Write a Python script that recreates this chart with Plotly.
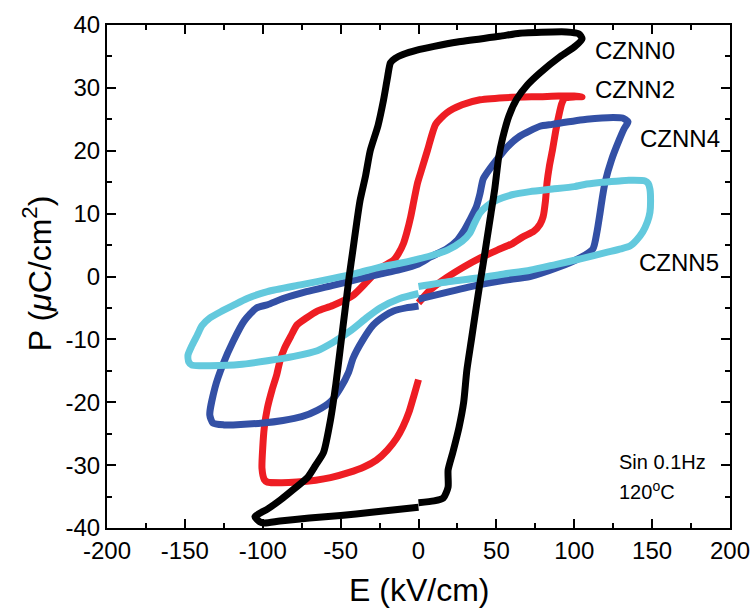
import plotly.graph_objects as go

# ---- data (E in kV/cm, P in uC/cm2), each loop traced from E=0 ----
czNN0_E = [0, 10, 16, 19, 19, 22, 26, 29, 31, 34, 37, 39.5, 41.5, 44, 46.5, 49, 51.5, 54, 58, 63, 70, 78, 91, 100, 105,
           103, 95, 86, 65, 52, 25, 10, -1, -10, -15, -18, -20, -22.5, -26, -31, -34, -37.6, -40, -42, -44.5, -47, -50,
           -53, -56.5, -61, -66, -71, -80, -88.5, -97, -105, -102, -99, -89, -70, -50, -30, -15, 0]
czNN0_P = [-36.0, -35.7, -35.2, -33.5, -30.8, -28, -24, -20, -15, -10, -5, -1, 2, 6, 10, 14, 19, 22, 25.5, 28.2, 30.5, 32.4, 35, 36.5, 37.8,
           38.6, 38.9, 38.9, 38.7, 38.2, 37.3, 36.6, 36, 35.3, 34.7, 34, 31.5, 28, 24, 20, 16, 12, 8, 4.4, 0, -5, -11,
           -17, -22.8, -28, -30, -31.9, -33.8, -35.5, -37, -38.2, -39, -39.2, -38.9, -38.4, -38, -37.5, -37.1, -36.7]

czNN2_E = [0, 7.7, 18, 29, 40, 50.6, 60, 67, 74, 78, 80, 81.5, 82.5, 84, 86, 88, 90, 92, 94, 97, 101, 105,
           100, 90, 78, 60, 39.5, 28, 18, 11, 5.8, 2, -0.6, -3, -5, -7.5, -9.6, -13, -16, -24.7, -33, -42, -55, -65,
           -72, -78, -82, -86, -89, -91, -94, -97, -99, -100, -100.5, -99, -97, -88, -78, -66, -56.5, -45, -35, -27,
           -20, -14, -10, -6, -3, 0]
czNN2_P = [-4.2, -2.1, -0.2, 1.5, 3, 4.2, 5.2, 6.3, 7.2, 8.3, 9.5, 12, 14.9, 17.5, 20.1, 23, 25.5, 27.5, 28.4, 28.5, 28.6, 28.6,
           28.7, 28.7, 28.6, 28.5, 28.1, 27.3, 26, 24.2, 20.1, 17, 14.9, 12, 9.5, 7, 5.3, 3.6, 2.6, 1.3, -0.8, -3, -4.6, -5.5,
           -6.6, -7.7, -9.5, -11.4, -13.5, -15.6, -18, -20.9, -24, -27.2, -30.5, -32.3, -32.7, -32.8, -32.7, -32.4, -32, -31.2, -30.3, -29.2,
           -27.6, -25.7, -23.9, -21.5, -19, -16.4]

czNN4_E = [0, 20, 39.5, 55, 71.6, 88, 104, 112, 114.6, 116.5, 118, 119.8, 124, 129, 132, 134.5,
           131, 125, 108, 86, 78, 65, 57, 50, 46, 41.5, 39.5, 37, 33, 29, 25, 18, 7.7, 0, -12, -24.7, -40, -55,
           -72, -87, -97, -104, -112, -119, -125.6, -130.7, -134, -132, -125, -119, -100, -87, -75, -65, -56, -50,
           -45, -42, -36, -29, -22, -16, -8, 0]
czNN4_P = [-3.6, -2.4, -1.3, -0.6, 0, 1.3, 3, 4.4, 7.1, 10, 12.5, 15, 18.6, 21.8, 23.5, 24.6,
           25.2, 25.3, 25, 24.2, 23.9, 22.3, 20.6, 18.5, 17.2, 15.5, 13.2, 11, 9, 7.2, 5.8, 4.4, 3.1, 2, 1.1, 0.4, -0.5, -1.4,
           -2.4, -3.5, -4.5, -5, -7.1, -10.3, -14, -17.7, -22, -23.3, -23.6, -23.6, -23.3, -22.9, -22.3, -21.3, -19.8, -17.7,
           -15.3, -13, -10.2, -7.7, -6.3, -5.5, -5, -4.7]

czNN5_E = [0, 20, 39.5, 55, 71.6, 88, 104, 120, 130, 136, 140, 144, 147, 148.6, 149, 148.6, 147.5, 145.5,
           135, 129, 118, 108, 100, 86, 71.6, 60, 50.6, 44, 39.5, 36, 33, 28, 18.6, 8, -3, -12, -24.7, -40, -55,
           -75, -97, -110, -119, -127, -134, -139, -142, -145.5, -148, -147.5, -145.5, -140, -134, -115, -97, -80,
           -65, -55, -44, -33, -24.7, -12, 0]
czNN5_P = [-1.6, -0.8, -0.2, 0.4, 1, 1.9, 2.8, 3.8, 4.4, 4.9, 5.8, 7.1, 8.7, 10.2, 12, 13.9, 14.8, 15.2,
           15.3, 15.2, 15, 14.7, 14.3, 13.9, 13.5, 13, 12.2, 11.2, 10.1, 8.5, 6.9, 5.6, 4.2, 3.3, 2.6, 2.1, 1.5, 0.5, -0.3,
           -1.3, -2.4, -3.5, -4.6, -5.6, -6.6, -7.8, -9.3, -11, -12.5, -13.6, -14.1, -14.2, -14.2, -14, -13.4, -12.7,
           -11.8, -10.5, -8.7, -6.5, -5, -3.5, -2.7]

sample_names = ["CZNN0", "CZNN2", "CZNN4", "CZNN5"]
x_ticks = [-200, -150, -100, -50, 0, 50, 100, 150, 200]
x_ticklabels = ["-200", "-150", "-100", "-50", "0", "50", "100", "150", "200"]
y_ticks = [-40, -30, -20, -10, 0, 10, 20, 30, 40]
y_ticklabels = ["-40", "-30", "-20", "-10", "0", "10", "20", "30", "40"]

FONT = "Liberation Sans, Arial, sans-serif"

fig = go.Figure()
series = [
    (czNN2_E, czNN2_P, "#EE1D23", sample_names[1]),
    (czNN4_E, czNN4_P, "#3350A5", sample_names[2]),
    (czNN5_E, czNN5_P, "#63C9DD", sample_names[3]),
    (czNN0_E, czNN0_P, "#000000", sample_names[0]),
]
for ex, py, col, nm in series:
    fig.add_trace(go.Scatter(x=ex, y=py, mode="lines", name=nm,
                             line=dict(color=col, width=7, shape="spline", smoothing=0.6),
                             showlegend=False))

axis_common = dict(showline=True, linecolor="black", linewidth=2, mirror="ticks",
                   ticks="inside", ticklen=9, tickwidth=2, tickcolor="black",
                   showgrid=False, zeroline=False,
                   tickfont=dict(family=FONT, size=24, color="black"))

fig.update_xaxes(range=[-200, 200], tickvals=x_ticks, ticktext=x_ticklabels,
                 minor=dict(ticks="inside", ticklen=5, tickwidth=2, tickvals=list(range(-175, 200, 50)),
                            tickcolor="black", showgrid=False),
                 **axis_common)
fig.update_yaxes(range=[-40, 40], tickvals=y_ticks, ticktext=y_ticklabels,
                 minor=dict(ticks="inside", ticklen=5, tickwidth=2, tickvals=list(range(-35, 40, 10)),
                            tickcolor="black", showgrid=False),
                 **axis_common)

lab_font = dict(family=FONT, size=24, color="black")
anns = [
    dict(x=112, y=36, text=sample_names[0]),
    dict(x=112, y=29.7, text=sample_names[1]),
    dict(x=141, y=22, text=sample_names[2]),
    dict(x=140.3, y=2.3, text=sample_names[3]),
]
for a in anns:
    fig.add_annotation(x=a["x"], y=a["y"], text=a["text"], xref="x", yref="y",
                       xanchor="left", yanchor="middle", showarrow=False, font=lab_font)

small_font = dict(family=FONT, size=20, color="black")
fig.add_annotation(x=127.4, y=-29.5, text="Sin 0.1Hz", xref="x", yref="y",
                   xanchor="left", yanchor="middle", showarrow=False, font=small_font)
fig.add_annotation(x=127.4, y=-34.0, text="120<sup>o</sup>C", xref="x", yref="y",
                   xanchor="left", yanchor="middle", showarrow=False, font=small_font)

title_font = dict(family=FONT, size=32, color="black")
fig.add_annotation(x=0.5, y=-0.123, text="E (kV/cm)", xref="paper", yref="paper",
                   xanchor="center", yanchor="middle", showarrow=False, font=title_font)
fig.add_annotation(x=-0.112, y=0.507, text="P (<i>\u03bc</i>C/cm<sup>2</sup>)", xref="paper", yref="paper",
                   xanchor="center", yanchor="middle", textangle=-90, showarrow=False, font=title_font)

fig.update_layout(width=754, height=610,
                  margin=dict(l=107, r=24, t=25, b=82, autoexpand=False),
                  paper_bgcolor="white", plot_bgcolor="white")

fig.write_html("out.html")
